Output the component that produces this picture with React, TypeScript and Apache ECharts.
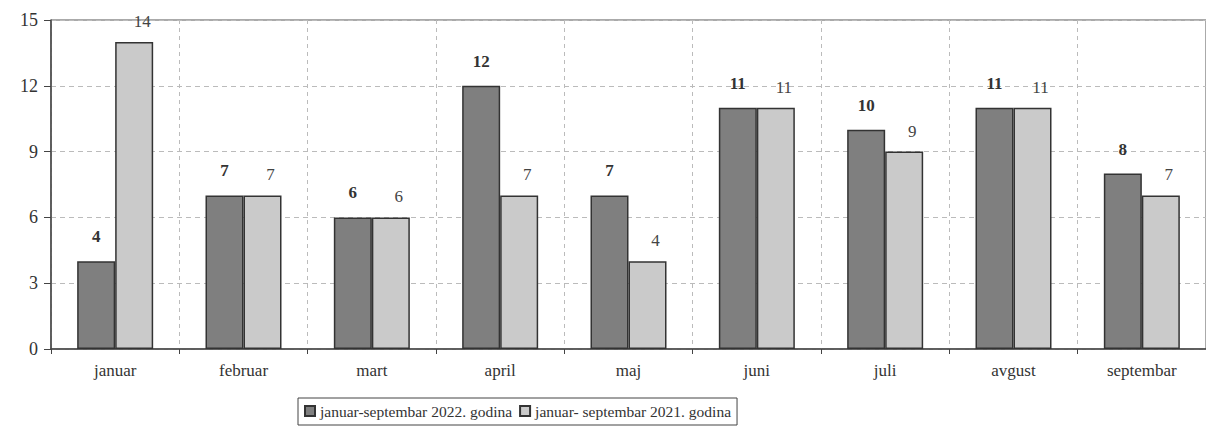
import React, { useEffect, useRef } from "react";
import * as echarts from "echarts";

const categories = ["januar", "februar", "mart", "april", "maj", "juni", "juli", "avgust", "septembar"];
const series2022 = [4, 7, 6, 12, 7, 11, 10, 11, 8];
const series2021 = [14, 7, 6, 7, 4, 11, 9, 11, 7];
const seriesNames = ["januar-septembar 2022. godina", "januar- septembar 2021. godina"];
const yTicks = { min: 0, max: 15, interval: 3 };

const FONT = "Liberation Serif";

export default function App() {
  const ref = useRef<HTMLDivElement>(null);
  useEffect(() => {
    document.body.style.margin = "0";
    const chart = echarts.init(ref.current!, null, { renderer: "svg" });
    chart.setOption({
      animation: false,
      backgroundColor: "#ffffff",
      textStyle: { fontFamily: FONT },
      grid: {
        left: 51,
        top: 20,
        right: -8,
        bottom: 77,
        show: true,
        borderColor: "#555",
        borderWidth: 1,
      },
      legend: {
        left: 298,
        top: 398,
        icon: "rect",
        itemWidth: 10,
        itemHeight: 10,
        itemGap: 7,
        padding: [5, 6, 6, 6],
        borderColor: "#444",
        borderWidth: 1,
        textStyle: { fontFamily: FONT, fontSize: 15.5, color: "#333" },
        data: seriesNames,
      },
      xAxis: {
        type: "category",
        data: categories,
        axisLine: { lineStyle: { color: "#444", width: 1.5 } },
        axisTick: { show: true, length: 5, lineStyle: { color: "#444" } },
        axisLabel: { fontFamily: FONT, fontSize: 17, color: "#333", margin: 13 },
        splitLine: { show: true, lineStyle: { color: "#bbb", type: [4, 4], width: 1 } },
      },
      yAxis: {
        type: "value",
        min: yTicks.min,
        max: yTicks.max,
        interval: yTicks.interval,
        axisLine: { show: true, lineStyle: { color: "#444", width: 1.5 } },
        axisTick: { show: true, length: 7, lineStyle: { color: "#444" } },
        axisLabel: { fontFamily: FONT, fontSize: 18, color: "#333", margin: 13 },
        splitLine: { show: true, lineStyle: { color: "#bbb", type: [5, 4], width: 1 } },
      },
      series: [
        {
          name: seriesNames[0],
          type: "bar",
          data: series2022,
          barWidth: 38,
          barGap: "0%",
          itemStyle: { color: "#7f7f7f", borderColor: "#333", borderWidth: 1.5 },
          label: {
            show: true,
            position: "top",
            distance: 16,
            fontFamily: FONT,
            fontSize: 17,
            fontWeight: "bold",
            color: "#333",
          },
        },
        {
          name: seriesNames[1],
          type: "bar",
          data: series2021,
          barWidth: 38,
          itemStyle: { color: "#cacaca", borderColor: "#333", borderWidth: 1.5 },
          label: {
            show: true,
            position: "top",
            distance: 12,
            offset: [8, 0],
            fontFamily: FONT,
            fontSize: 17,
            color: "#444",
          },
        },
      ],
    });
    return () => chart.dispose();
  }, []);
  return <div ref={ref} style={{ width: 1206, height: 426 }} />;
}
